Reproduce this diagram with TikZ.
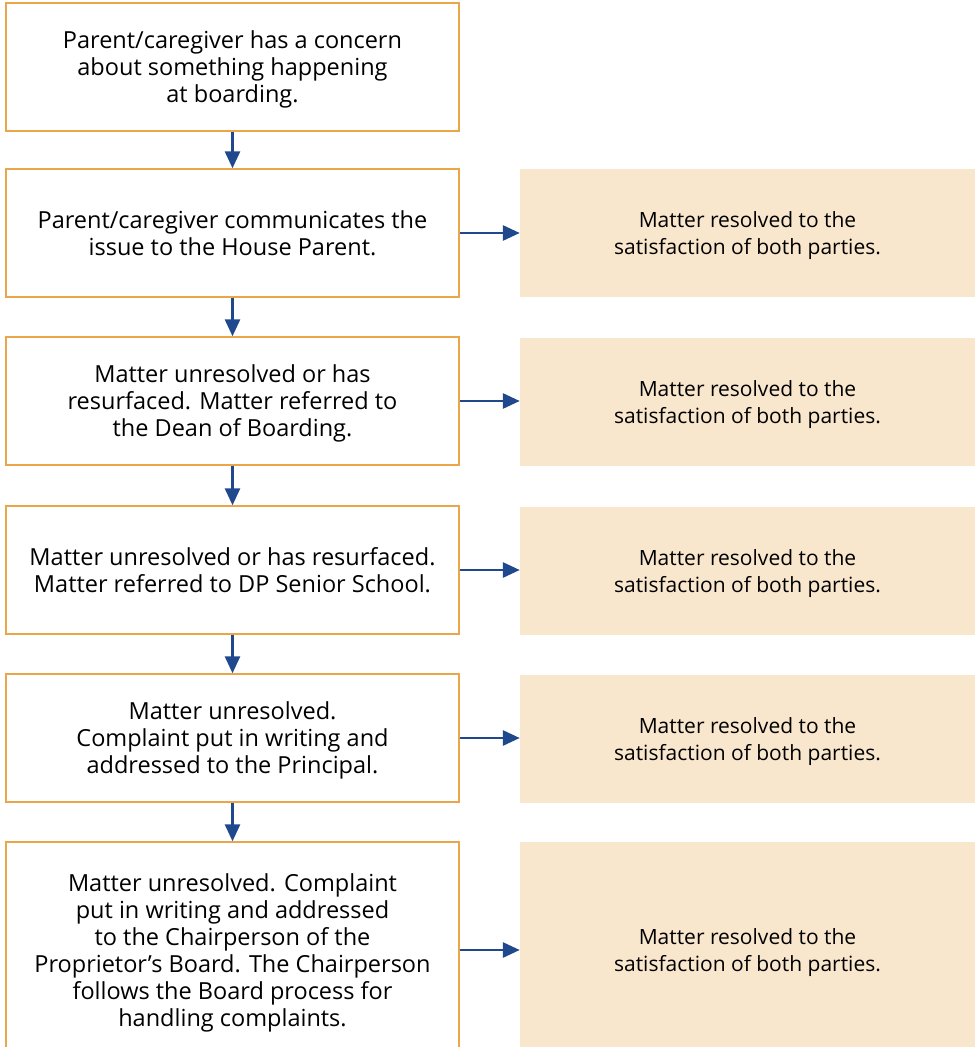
\documentclass[tikz,border=0pt]{standalone}
\usepackage{fontspec}
\setmainfont{Open Sans}
\usepackage{tikz}
\usetikzlibrary{arrows.meta,positioning}
\usepackage{xcolor}
\definecolor{stepborder}{RGB}{234,166,72}
\definecolor{resfill}{RGB}{248,230,205}
\definecolor{flowblue}{RGB}{32,72,140}
\tikzstyle{stepbox} = [draw=stepborder, line width=1.4pt, minimum width=453pt, minimum height=128pt, align=center, text depth=0pt, font=\fontsize{23.5}{27}\selectfont]
\tikzstyle{resbox} = [fill=resfill, minimum width=455pt, minimum height=128pt, align=center, text depth=0pt, font=\fontsize{21}{26.5}\selectfont]
\tikzstyle{flow} = [line width=2.8pt, color=flowblue, -{Triangle[length=17pt,width=15pt]}]

\begin{document}
\begin{tikzpicture}[x=1pt, y=-1pt]
\clip (0,0) rectangle (979,1047);
% steps on the left
\node[stepbox] (concern) at (232.5,67) {Parent/caregiver has a concern\\about something happening\\at boarding.};
\node[stepbox] (houseparent) at (232.5,233) {Parent/caregiver communicates the\\issue to the House Parent.};
\node[stepbox] (dean) at (232.5,401) {Matter unresolved or has\\resurfaced. Matter referred to\\the Dean of Boarding.};
\node[stepbox] (dp) at (232.5,570) {Matter unresolved or has resurfaced.\\Matter referred to DP Senior School.};
\node[stepbox] (principal) at (232.5,738) {Matter unresolved.\\Complaint put in writing and\\addressed to the Principal.};
\node[stepbox, minimum height=216pt] (chair) at (232.5,950) {Matter unresolved. Complaint\\put in writing and addressed\\to the Chairperson of the\\Proprietor's Board. The Chairperson\\follows the Board process for\\handling complaints.};

% resolved on the right
\node[resbox] (res1) at (747.5,233) {Matter resolved to the\\satisfaction of both parties.};
\node[resbox] (res2) at (747.5,402) {Matter resolved to the\\satisfaction of both parties.};
\node[resbox] (res3) at (747.5,571) {Matter resolved to the\\satisfaction of both parties.};
\node[resbox] (res4) at (747.5,739) {Matter resolved to the\\satisfaction of both parties.};
\node[resbox, minimum height=216pt] (res5) at (747.5,950) {Matter resolved to the\\satisfaction of both parties.};

% arrows down
\draw[flow] (concern) -- (houseparent);
\draw[flow] (houseparent) -- (dean);
\draw[flow] (dean) -- (dp);
\draw[flow] (dp) -- (principal);
\draw[flow] (principal) -- (chair);

% arrows across
\draw[flow] (houseparent.east) -- (houseparent.east -| res1.west);
\draw[flow] (dean.east) -- (dean.east -| res2.west);
\draw[flow] (dp.east) -- (dp.east -| res3.west);
\draw[flow] (principal.east) -- (principal.east -| res4.west);
\draw[flow] (chair.east) -- (chair.east -| res5.west);
\end{tikzpicture}
\end{document}
